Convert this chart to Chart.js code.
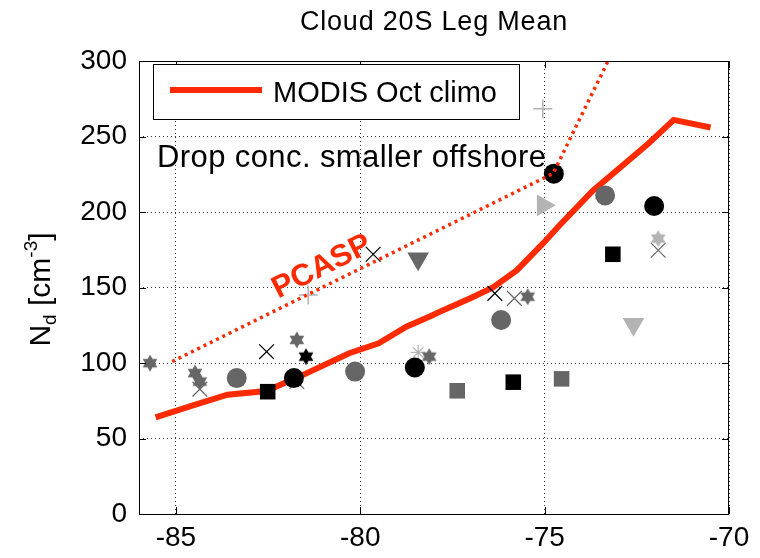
<!DOCTYPE html>
<html>
<head>
<meta charset="utf-8">
<title>Cloud 20S Leg Mean</title>
<script src="https://cdn.jsdelivr.net/npm/chart.js@4.4.1/dist/chart.umd.min.js"></script>
<style>
  html, body { margin: 0; padding: 0; background: #fff; }
</style>
</head>
<body>
<canvas id="ndChart" width="760" height="558"></canvas>
<script>
// Axis ticks
const xTicks = [-85, -80, -75, -70];
const yTicks = [0, 50, 100, 150, 200, 250, 300];

// MODIS Oct climatology (thick red line)
const modisLon = [-85.55, -84.6, -83.6, -82.55, -81.65, -80.3, -79.5, -78.75, -78.1, -77.75, -77.0, -76.4, -75.75, -75.05, -74.6, -73.7, -72.2, -71.5, -70.5];
const modisNd  = [64, 71.5, 79, 81.5, 91, 106.5, 113, 124, 131, 135, 143, 150, 161.5, 179, 191, 214, 245, 261, 256];

// PCASP (dotted red line)
const pcaspLon = [-85.1, -74.77, -73.28];
const pcaspNd  = [101, 225.5, 300];

// Leg means, grouped by marker and shade
const blackCircleLon = [-81.8, -78.52, -74.75, -72.03];
const blackCircleNd  = [90, 97, 225.4, 204];
const grayCircleLon  = [-83.35, -80.14, -76.18, -73.36];
const grayCircleNd   = [90, 94.3, 128.5, 211];
const blackSquareLon = [-82.51, -75.85, -73.15];
const blackSquareNd  = [81, 87.3, 172];
const graySquareLon  = [-77.37, -74.54];
const graySquareNd   = [81.6, 89.5];
const grayHexLon     = [-85.7, -84.48, -84.35, -81.72, -78.13, -75.46];
const grayHexNd      = [99.9, 93.3, 87.7, 115.3, 104.2, 143.9];
const blackHexLon    = [-81.47];
const blackHexNd     = [104.2];
const lightHexLon    = [-71.92];
const lightHexNd     = [182.4];
const blackXLon      = [-82.54, -79.65, -76.35];
const blackXNd       = [107.5, 172, 146.1];
const grayXLon       = [-84.35, -81.72, -75.82, -71.92];
const grayXNd        = [82.7, 87.7, 142.8, 174.7];
const lightPlusLon   = [-81.41, -75.05];
const lightPlusNd    = [145, 268.3];
const lightStarLon   = [-78.43];
const lightStarNd    = [107];
const grayDownLon    = [-78.43];
const grayDownNd     = [169];
const lightDownLon   = [-72.59];
const lightDownNd    = [125.6];
const lightRightLon  = [-75.04];
const lightRightNd   = [204.4];

const RED = '#ff2a00';
const BLACK = '#000000';
const GRAY = '#666666';
const LIGHT = '#b3b3b3';
const FONT = '"Liberation Sans", Arial, Helvetica, sans-serif';

Chart.defaults.font.family = FONT;
Chart.defaults.color = '#000';

function toPoints(lon, nd) {
  return lon.map((v, i) => ({ x: v, y: nd[i] }));
}

// filled six-point star, drawn once per colour and used as a point image
function hexagram(color) {
  const c = document.createElement('canvas');
  c.width = 20; c.height = 20;
  const g = c.getContext('2d');
  const R = 8.5, r = R / Math.sqrt(3);
  g.beginPath();
  for (let i = 0; i < 12; i++) {
    const ang = -Math.PI / 2 + i * Math.PI / 6;
    const rad = i % 2 === 0 ? R : r;
    const px = 10 + rad * Math.cos(ang), py = 10 + rad * Math.sin(ang);
    if (i === 0) g.moveTo(px, py); else g.lineTo(px, py);
  }
  g.closePath();
  g.fillStyle = color;
  g.fill();
  return c;
}

function markerSet(label, lon, nd, style, color, radius, opts) {
  return Object.assign({
    label: label,
    data: toPoints(lon, nd),
    showLine: false,
    pointStyle: style,
    pointRadius: radius,
    pointHoverRadius: radius,
    pointBackgroundColor: color,
    pointBorderColor: color,
    pointBorderWidth: 0,
    order: 1
  }, opts || {});
}

const datasets = [
  {
    label: 'PCASP',
    data: toPoints(pcaspLon, pcaspNd),
    showLine: true,
    borderColor: RED,
    borderWidth: 3.5,
    borderDash: [3, 4],
    pointRadius: 0,
    fill: false,
    order: 0
  },
  markerSet('black o', blackCircleLon, blackCircleNd, 'circle', BLACK, 10),
  markerSet('gray o', grayCircleLon, grayCircleNd, 'circle', GRAY, 10),
  markerSet('black s', blackSquareLon, blackSquareNd, 'rect', BLACK, 11),
  markerSet('gray s', graySquareLon, graySquareNd, 'rect', GRAY, 11),
  markerSet('gray h', grayHexLon, grayHexNd, hexagram(GRAY), GRAY, 9),
  markerSet('black h', blackHexLon, blackHexNd, hexagram(BLACK), BLACK, 9),
  markerSet('light h', lightHexLon, lightHexNd, hexagram(LIGHT), LIGHT, 9),
  markerSet('black x', blackXLon, blackXNd, 'crossRot', BLACK, 10.4, { pointBorderWidth: 1.2 }),
  markerSet('gray x', grayXLon, grayXNd, 'crossRot', GRAY, 10.4, { pointBorderWidth: 1.2 }),
  markerSet('light +', lightPlusLon, lightPlusNd, 'cross', LIGHT, 9.5, { pointBorderWidth: 1.5 }),
  markerSet('light *', lightStarLon, lightStarNd, 'star', LIGHT, 7.5, { pointBorderWidth: 1.2 }),
  markerSet('gray v', grayDownLon, grayDownNd, 'triangle', GRAY, 12.5, { pointRotation: 180 }),
  markerSet('light v', lightDownLon, lightDownNd, 'triangle', LIGHT, 12.5, { pointRotation: 180 }),
  markerSet('light >', lightRightLon, lightRightNd, 'triangle', LIGHT, 12.5, { pointRotation: 90 }),
  {
    label: 'MODIS Oct climo',
    data: toPoints(modisLon, modisNd),
    showLine: true,
    borderColor: RED,
    borderWidth: 6,
    pointRadius: 0,
    fill: false,
    order: 2
  }
];

// title, axes box, inward ticks, legend, y label and notes
const decorations = {
  id: 'decorations',
  afterDraw(chart) {
    const { ctx, chartArea: a, scales } = chart;
    const xs = scales.x, ys = scales.y;
    ctx.save();

    // box + ticks pointing in
    ctx.strokeStyle = '#000';
    ctx.lineWidth = 1;
    ctx.strokeRect(a.left + 0.5, a.top + 0.5, a.right - a.left - 1, a.bottom - a.top);
    ctx.beginPath();
    yTicks.forEach(v => {
      const py = Math.round(ys.getPixelForValue(v)) + 0.5;
      ctx.moveTo(a.left, py); ctx.lineTo(a.left + 7, py);
      ctx.moveTo(a.right, py); ctx.lineTo(a.right - 7, py);
    });
    xTicks.forEach(v => {
      const px = Math.round(xs.getPixelForValue(v)) + 0.5;
      ctx.moveTo(px, a.bottom); ctx.lineTo(px, a.bottom - 7);
      ctx.moveTo(px, a.top); ctx.lineTo(px, a.top + 7);
    });
    ctx.stroke();

    // title
    ctx.fillStyle = '#000';
    ctx.font = '27px ' + FONT;
    ctx.letterSpacing = '0.8px';
    ctx.textAlign = 'center';
    ctx.textBaseline = 'alphabetic';
    ctx.fillText('Cloud 20S Leg Mean', (a.left + a.right) / 2, 30);
    ctx.letterSpacing = '0px';

    // legend
    const lx = a.left + 14, ly = a.top + 3, lw = 366, lh = 55;
    ctx.fillStyle = '#fff';
    ctx.fillRect(lx, ly, lw, lh);
    ctx.strokeStyle = '#000';
    ctx.lineWidth = 1;
    ctx.strokeRect(lx + 0.5, ly + 0.5, lw, lh);
    ctx.strokeStyle = RED;
    ctx.lineWidth = 6;
    ctx.beginPath();
    ctx.moveTo(lx + 17, ly + 26); ctx.lineTo(lx + 109, ly + 26);
    ctx.stroke();
    ctx.fillStyle = '#000';
    ctx.font = '29px ' + FONT;
    ctx.textAlign = 'left';
    ctx.fillText('MODIS Oct climo', lx + 120, ly + 38);

    // note
    ctx.font = '31px ' + FONT;
    ctx.letterSpacing = '0.4px';
    ctx.fillText('Drop conc. smaller offshore', a.left + 18, 167);
    ctx.letterSpacing = '0px';

    // PCASP label
    ctx.save();
    ctx.translate(322, 267);
    ctx.rotate(-27 * Math.PI / 180);
    ctx.fillStyle = RED;
    ctx.font = 'bold 31px ' + FONT;
    ctx.textAlign = 'center';
    ctx.textBaseline = 'middle';
    ctx.fillText('PCASP', 0, 0);
    ctx.restore();

    // y axis label N_d [cm^-3]
    const parts = [
      { t: 'N', size: 30, dy: 0 },
      { t: 'd', size: 19, dy: 6 },
      { t: ' [cm', size: 30, dy: 0 },
      { t: '-3', size: 19, dy: -13 },
      { t: ']', size: 30, dy: 0 }
    ];
    let total = 0;
    parts.forEach(p => { ctx.font = p.size + 'px ' + FONT; p.w = ctx.measureText(p.t).width; total += p.w; });
    ctx.save();
    ctx.translate(50, (a.top + a.bottom) / 2 + 2);
    ctx.rotate(-Math.PI / 2);
    ctx.fillStyle = '#000';
    ctx.textAlign = 'left';
    let cx = -total / 2;
    parts.forEach(p => {
      ctx.font = p.size + 'px ' + FONT;
      ctx.fillText(p.t, cx, p.dy);
      cx += p.w;
    });
    ctx.restore();

    ctx.restore();
  }
};

new Chart(document.getElementById('ndChart'), {
  type: 'scatter',
  data: { datasets: datasets },
  options: {
    responsive: false,
    animation: false,
    events: [],
    layout: { padding: { top: 61, right: 31, left: 0, bottom: 0 } },
    plugins: {
      legend: { display: false },
      tooltip: { enabled: false },
      title: { display: false }
    },
    scales: {
      x: {
        type: 'linear',
        min: -86,
        max: -70,
        afterBuildTicks: axis => { axis.ticks = xTicks.map(v => ({ value: v })); },
        afterFit: s => { s.height = 44; },
        grid: { color: '#333', lineWidth: 1, drawTicks: false },
        border: { display: false, dash: [1, 3] },
        ticks: { font: { size: 28 }, color: '#000', padding: 7, maxRotation: 0 }
      },
      y: {
        type: 'linear',
        min: 0,
        max: 300,
        afterBuildTicks: axis => { axis.ticks = yTicks.map(v => ({ value: v })); },
        afterFit: s => { s.width = 139; },
        grid: { color: '#333', lineWidth: 1, drawTicks: false },
        border: { display: false, dash: [1, 3] },
        ticks: { font: { size: 28 }, color: '#000', padding: 12 }
      }
    }
  },
  plugins: [decorations]
});
</script>
</body>
</html>
